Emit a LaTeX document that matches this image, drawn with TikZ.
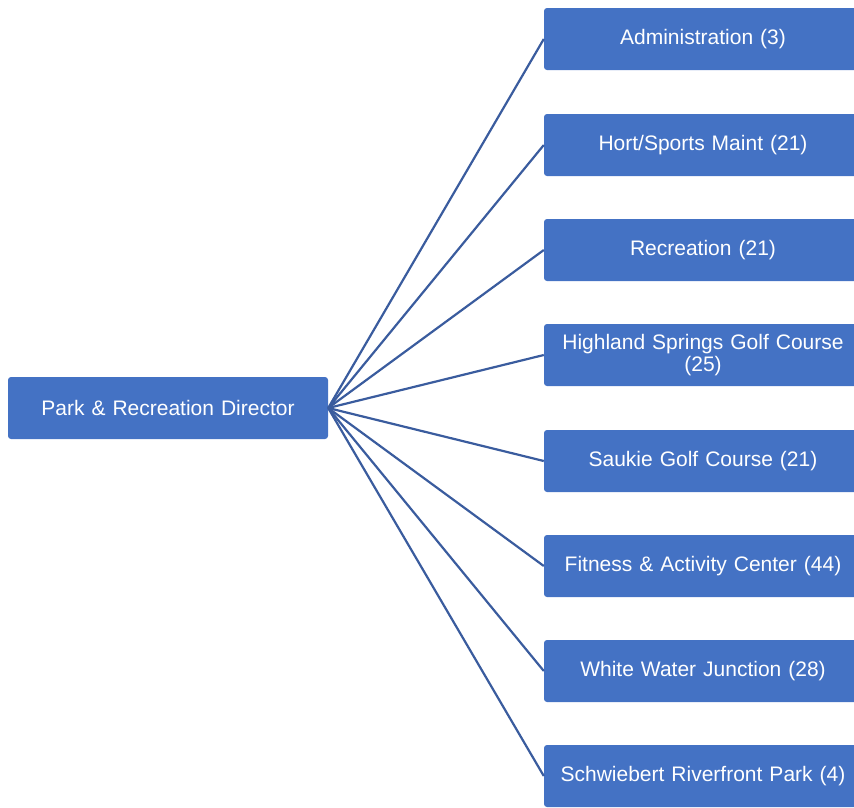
\documentclass[tikz,border=0pt]{standalone}
\usepackage{fontspec}
\setmainfont{Liberation Sans}
\definecolor{boxblue}{HTML}{4472C4}
\definecolor{lineblue}{HTML}{3A5C9E}
\begin{document}
\begin{tikzpicture}[x=1pt,y=-1pt,
  orgbox/.style={fill=boxblue, rounded corners=3pt, text=white, minimum width=318pt, minimum height=62pt, inner sep=0pt, align=center, text width=310pt, font=\fontsize{21}{22}\selectfont},
  conn/.style={draw=lineblue, line width=2.2pt}]
\useasboundingbox (0,0) rectangle (854,807);
\node[orgbox, minimum width=320pt] (dir) at (168,408) {Park \& Recreation Director};
\node[orgbox] (a1) at (703,39) {Administration (3)};
\node[orgbox] (a2) at (703,145) {Hort/Sports Maint (21)};
\node[orgbox] (a3) at (703,250) {Recreation (21)};
\node[orgbox] (a4) at (703,355) {Highland Springs Golf Course\\(25)};
\node[orgbox] (a5) at (703,461) {Saukie Golf Course (21)};
\node[orgbox] (a6) at (703,566) {Fitness \& Activity Center (44)};
\node[orgbox] (a7) at (703,671) {White Water Junction (28)};
\node[orgbox] (a8) at (703,776) {Schwiebert Riverfront Park (4)};
\foreach \n in {a1,a2,a3,a4,a5,a6,a7,a8}
  \draw[conn] (dir.east) -- (\n.west);
\end{tikzpicture}
\end{document}
